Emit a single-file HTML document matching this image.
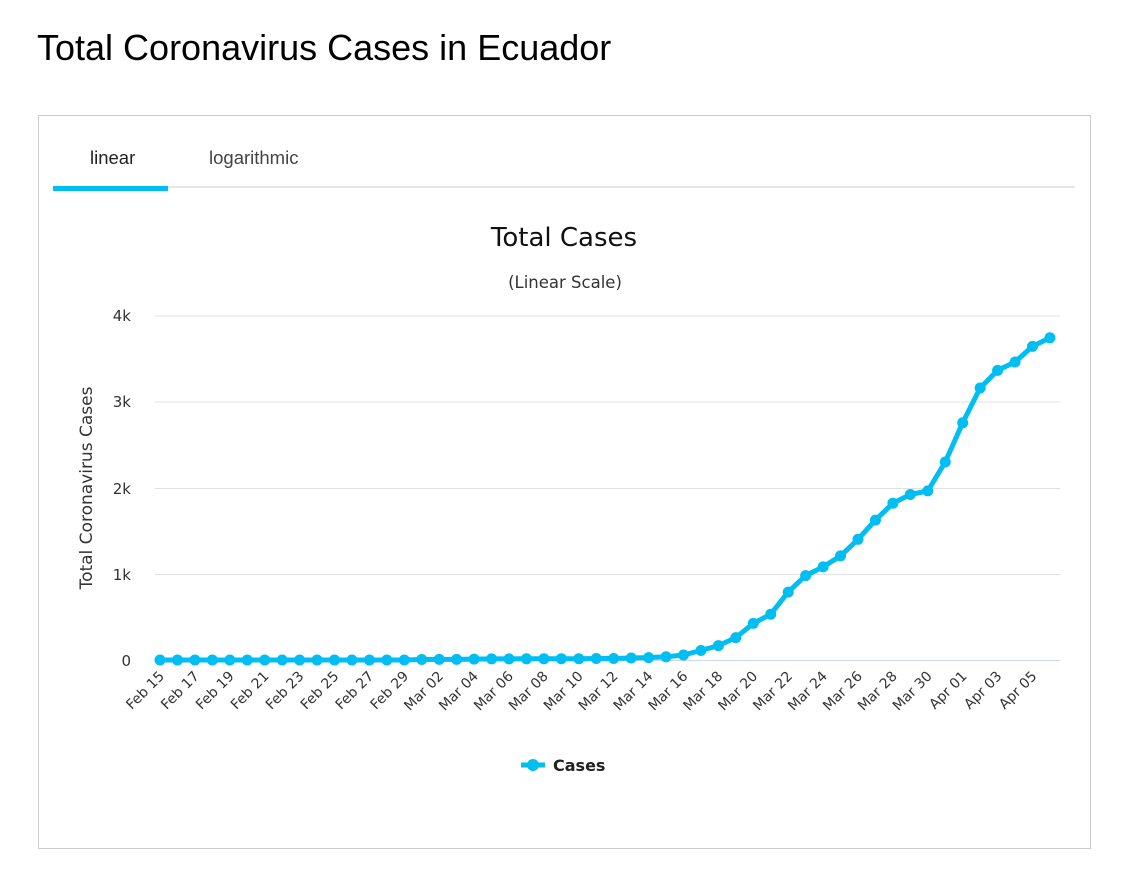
<!DOCTYPE html>
<html><head><meta charset="utf-8"><style>
body{margin:0;background:#fff;width:1140px;height:879px;overflow:hidden;font-family:"Liberation Sans",sans-serif}
h1{position:absolute;left:37px;top:27px;margin:0;font-weight:normal;font-size:36px;color:#000}
.box{position:absolute;left:38px;top:115px;width:1051px;height:732px;border:1px solid #ccc}
.tab{position:absolute;top:147px;font-size:18.5px;color:#444}
</style></head><body>
<h1>Total Coronavirus Cases in Ecuador</h1>
<div class="box"></div>
<div class="tab" style="left:90px;color:#222">linear</div>
<div class="tab" style="left:209px">logarithmic</div>
<div style="position:absolute;left:53px;top:186px;width:1022px;height:2px;background:#e6e6e6"></div>
<div style="position:absolute;left:53px;top:186px;width:115px;height:5px;background:#00bdf2"></div>
<svg width="1140" height="879" style="position:absolute;left:0;top:0" font-family="DejaVu Sans, sans-serif">
<text x="564" y="246" text-anchor="middle" font-size="26" fill="#111">Total Cases</text>
<text x="565" y="288" text-anchor="middle" font-size="16.5" fill="#333">(Linear Scale)</text>
<g stroke="#e0e0e0" stroke-width="1">
<line x1="155" x2="1060" y1="316" y2="316"/><line x1="155" x2="1060" y1="402" y2="402"/>
<line x1="155" x2="1060" y1="488.5" y2="488.5"/><line x1="155" x2="1060" y1="574.5" y2="574.5"/>
<line x1="155" x2="1060" y1="660.5" y2="660.5" stroke="#ccd6eb"/>
</g>
<g font-size="15" fill="#333" text-anchor="end">
<text x="131" y="321">4k</text><text x="131" y="407">3k</text><text x="131" y="494">2k</text><text x="131" y="580">1k</text><text x="131" y="666">0</text>
</g>
<text transform="translate(92,488) rotate(-90)" text-anchor="middle" font-size="17" fill="#333">Total Coronavirus Cases</text>
<polyline fill="none" stroke="#00bdf2" stroke-width="5" stroke-linejoin="round" points="160,660 177.45,660 194.9,660 212.35,660 229.8,660 247.25,660 264.7,660 282.15,660 299.6,660 317.05,660 334.5,660 351.95,660 369.4,660 386.85,660 404.3,660 421.75,659.5 439.2,659.4 456.65,659.4 474.1,659.1 491.55,658.9 509,658.9 526.45,658.8 543.9,658.8 561.35,658.7 578.8,658.7 596.25,658.5 613.7,658.5 631.15,658 648.6,657.6 666.05,656.8 683.5,655 700.95,650.5 718.4,645.6 735.85,637.6 753.3,623.4 770.75,614.2 788.2,592.1 805.65,575.6 823.1,566.9 840.55,555.9 858,539.3 875.45,520.1 892.9,503.2 910.35,494.5 927.8,490.9 945.25,462 962.7,422.8 980.15,388 997.6,370.4 1015.05,362 1032.5,346.4 1049.95,337.8"/>
<g fill="#00bdf2">
<circle cx="160" cy="660" r="5.5"/><circle cx="177.45" cy="660" r="5.5"/><circle cx="194.9" cy="660" r="5.5"/><circle cx="212.35" cy="660" r="5.5"/><circle cx="229.8" cy="660" r="5.5"/><circle cx="247.25" cy="660" r="5.5"/><circle cx="264.7" cy="660" r="5.5"/><circle cx="282.15" cy="660" r="5.5"/><circle cx="299.6" cy="660" r="5.5"/><circle cx="317.05" cy="660" r="5.5"/><circle cx="334.5" cy="660" r="5.5"/><circle cx="351.95" cy="660" r="5.5"/><circle cx="369.4" cy="660" r="5.5"/><circle cx="386.85" cy="660" r="5.5"/><circle cx="404.3" cy="660" r="5.5"/><circle cx="421.75" cy="659.5" r="5.5"/><circle cx="439.2" cy="659.4" r="5.5"/><circle cx="456.65" cy="659.4" r="5.5"/><circle cx="474.1" cy="659.1" r="5.5"/><circle cx="491.55" cy="658.9" r="5.5"/><circle cx="509" cy="658.9" r="5.5"/><circle cx="526.45" cy="658.8" r="5.5"/><circle cx="543.9" cy="658.8" r="5.5"/><circle cx="561.35" cy="658.7" r="5.5"/><circle cx="578.8" cy="658.7" r="5.5"/><circle cx="596.25" cy="658.5" r="5.5"/><circle cx="613.7" cy="658.5" r="5.5"/><circle cx="631.15" cy="658" r="5.5"/><circle cx="648.6" cy="657.6" r="5.5"/><circle cx="666.05" cy="656.8" r="5.5"/><circle cx="683.5" cy="655" r="5.5"/><circle cx="700.95" cy="650.5" r="5.5"/><circle cx="718.4" cy="645.6" r="5.5"/><circle cx="735.85" cy="637.6" r="5.5"/><circle cx="753.3" cy="623.4" r="5.5"/><circle cx="770.75" cy="614.2" r="5.5"/><circle cx="788.2" cy="592.1" r="5.5"/><circle cx="805.65" cy="575.6" r="5.5"/><circle cx="823.1" cy="566.9" r="5.5"/><circle cx="840.55" cy="555.9" r="5.5"/><circle cx="858" cy="539.3" r="5.5"/><circle cx="875.45" cy="520.1" r="5.5"/><circle cx="892.9" cy="503.2" r="5.5"/><circle cx="910.35" cy="494.5" r="5.5"/><circle cx="927.8" cy="490.9" r="5.5"/><circle cx="945.25" cy="462" r="5.5"/><circle cx="962.7" cy="422.8" r="5.5"/><circle cx="980.15" cy="388" r="5.5"/><circle cx="997.6" cy="370.4" r="5.5"/><circle cx="1015.05" cy="362" r="5.5"/><circle cx="1032.5" cy="346.4" r="5.5"/><circle cx="1049.95" cy="337.8" r="5.5"/>
</g>
<g font-size="14" fill="#333" text-anchor="end">
<text transform="translate(165,677) rotate(-45)">Feb 15</text>
<text transform="translate(199.9,677) rotate(-45)">Feb 17</text>
<text transform="translate(234.8,677) rotate(-45)">Feb 19</text>
<text transform="translate(269.7,677) rotate(-45)">Feb 21</text>
<text transform="translate(304.6,677) rotate(-45)">Feb 23</text>
<text transform="translate(339.5,677) rotate(-45)">Feb 25</text>
<text transform="translate(374.4,677) rotate(-45)">Feb 27</text>
<text transform="translate(409.3,677) rotate(-45)">Feb 29</text>
<text transform="translate(444.2,677) rotate(-45)">Mar 02</text>
<text transform="translate(479.1,677) rotate(-45)">Mar 04</text>
<text transform="translate(514,677) rotate(-45)">Mar 06</text>
<text transform="translate(548.9,677) rotate(-45)">Mar 08</text>
<text transform="translate(583.8,677) rotate(-45)">Mar 10</text>
<text transform="translate(618.7,677) rotate(-45)">Mar 12</text>
<text transform="translate(653.6,677) rotate(-45)">Mar 14</text>
<text transform="translate(688.5,677) rotate(-45)">Mar 16</text>
<text transform="translate(723.4,677) rotate(-45)">Mar 18</text>
<text transform="translate(758.3,677) rotate(-45)">Mar 20</text>
<text transform="translate(793.2,677) rotate(-45)">Mar 22</text>
<text transform="translate(828.1,677) rotate(-45)">Mar 24</text>
<text transform="translate(863,677) rotate(-45)">Mar 26</text>
<text transform="translate(897.9,677) rotate(-45)">Mar 28</text>
<text transform="translate(932.8,677) rotate(-45)">Mar 30</text>
<text transform="translate(967.7,677) rotate(-45)">Apr 01</text>
<text transform="translate(1002.6,677) rotate(-45)">Apr 03</text>
<text transform="translate(1037.5,677) rotate(-45)">Apr 05</text>
</g>
<line x1="521" x2="545" y1="765" y2="765" stroke="#00bdf2" stroke-width="5"/>
<circle cx="533" cy="765" r="6" fill="#00bdf2"/>
<text x="553" y="771" font-size="16" font-weight="bold" fill="#222">Cases</text>
</svg>
</body></html>
